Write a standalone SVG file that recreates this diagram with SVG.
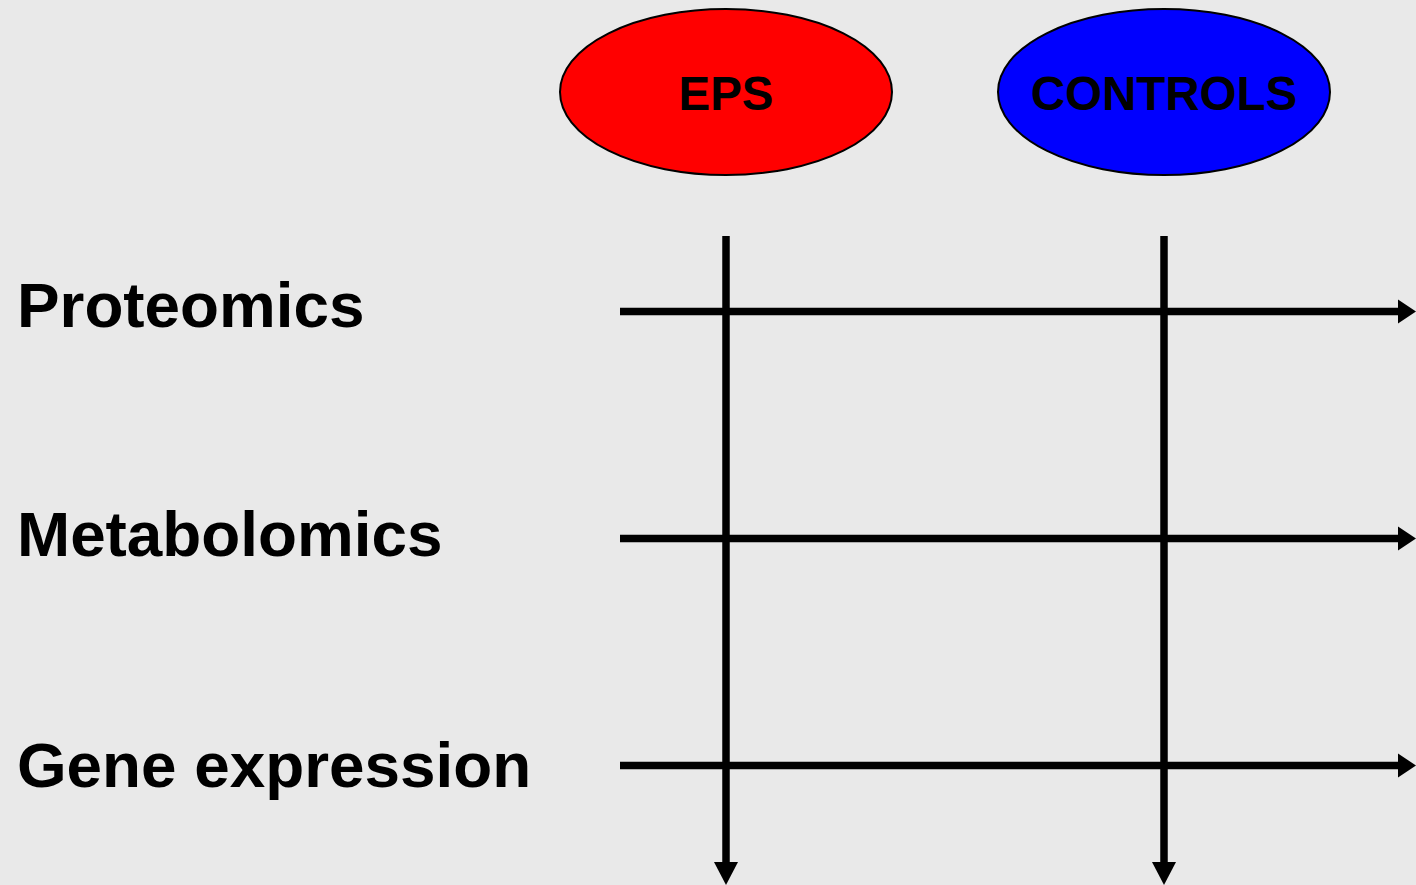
<svg xmlns="http://www.w3.org/2000/svg" width="1416" height="885" viewBox="0 0 1416 885">
<style>
.lbl{font-family:"Liberation Sans",Arial,sans-serif;font-weight:bold;fill:#000}
.row{font-size:63.8px}
.grp{font-size:47.5px;text-anchor:middle}
.ln{stroke:#000;stroke-width:7.5;fill:none}
.hd{fill:#000}
.el{stroke:#000;stroke-width:2}
</style>
<rect width="1416" height="885" fill="#e9e9e9"/>
<g id="connectors">
<line class="ln" x1="726" y1="236" x2="726" y2="864"/>
<polygon class="hd" points="714,862 738,862 726,885"/>
<line class="ln" x1="1164" y1="236" x2="1164" y2="864"/>
<polygon class="hd" points="1152,862 1176,862 1164,885"/>
<line class="ln" x1="620" y1="311.5" x2="1400" y2="311.5"/>
<polygon class="hd" points="1398,299.5 1398,323.5 1416,311.5"/>
<line class="ln" x1="620" y1="538.5" x2="1400" y2="538.5"/>
<polygon class="hd" points="1398,526.5 1398,550.5 1416,538.5"/>
<line class="ln" x1="620" y1="765.5" x2="1400" y2="765.5"/>
<polygon class="hd" points="1398,753.5 1398,777.5 1416,765.5"/>
</g>
<g id="eps">
<ellipse class="el" cx="726" cy="92" rx="166" ry="83" fill="#ff0000"/>
<text class="lbl grp" x="726" y="110">EPS</text>
</g>
<g id="controls">
<ellipse class="el" cx="1164" cy="92" rx="166" ry="83" fill="#0000ff"/>
<text class="lbl grp" x="1164" y="110">CONTROLS</text>
</g>
<g id="proteomics"><text class="lbl row" x="17" y="327">Proteomics</text></g>
<g id="metabolomics"><text class="lbl row" x="17" y="556">Metabolomics</text></g>
<g id="gene-expression"><text class="lbl row" x="17" y="787">Gene expression</text></g>
</svg>
